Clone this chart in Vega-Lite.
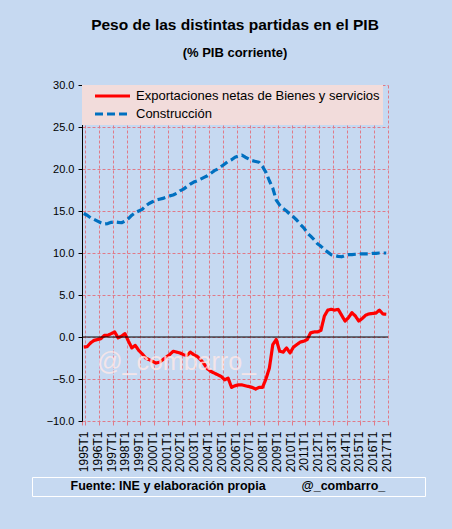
{
  "$schema": "https://vega.github.io/schema/vega-lite/v6.json",
  "width": 306,
  "height": 336,
  "autosize": "none",
  "padding": {"left": 82, "top": 85, "right": 64, "bottom": 108},
  "background": "#C6D9F1",
  "config": {"view": {"stroke": null}, "font": "Liberation Sans"},
  "title": {
    "text": "Peso de las distintas partidas en el PIB",
    "subtitle": "(% PIB corriente)",
    "font": "Liberation Sans",
    "fontSize": 15.5,
    "fontWeight": "bold",
    "color": "black",
    "subtitleFont": "Liberation Sans",
    "subtitleFontSize": 13,
    "subtitleFontWeight": "bold",
    "subtitleColor": "black",
    "subtitlePadding": 14,
    "anchor": "middle",
    "offset": 19
  },
  "data": {
    "values": [
      {"q": "1995T1", "exp": -1.2, "con": 14.7},
      {"q": "1995T2", "exp": -1.15, "con": 14.5},
      {"q": "1995T3", "exp": -0.7, "con": 14.2},
      {"q": "1995T4", "exp": -0.4, "con": 14.0},
      {"q": "1996T1", "exp": -0.3, "con": 13.8},
      {"q": "1996T2", "exp": -0.2, "con": 13.6},
      {"q": "1996T3", "exp": 0.2, "con": 13.45},
      {"q": "1996T4", "exp": 0.2, "con": 13.5},
      {"q": "1997T1", "exp": 0.4, "con": 13.65},
      {"q": "1997T2", "exp": 0.6, "con": 13.7},
      {"q": "1997T3", "exp": -0.1, "con": 13.65},
      {"q": "1997T4", "exp": 0.1, "con": 13.6},
      {"q": "1998T1", "exp": 0.4, "con": 13.8},
      {"q": "1998T2", "exp": -0.5, "con": 14.1},
      {"q": "1998T3", "exp": -1.3, "con": 14.5},
      {"q": "1998T4", "exp": -1.0, "con": 14.8},
      {"q": "1999T1", "exp": -1.6, "con": 15.0},
      {"q": "1999T2", "exp": -2.0, "con": 15.2},
      {"q": "1999T3", "exp": -2.5, "con": 15.6},
      {"q": "1999T4", "exp": -2.7, "con": 15.9},
      {"q": "2000T1", "exp": -2.9, "con": 16.1},
      {"q": "2000T2", "exp": -3.1, "con": 16.3},
      {"q": "2000T3", "exp": -3.0, "con": 16.4},
      {"q": "2000T4", "exp": -2.7, "con": 16.5},
      {"q": "2001T1", "exp": -2.4, "con": 16.65},
      {"q": "2001T2", "exp": -2.1, "con": 16.8},
      {"q": "2001T3", "exp": -1.7, "con": 16.9},
      {"q": "2001T4", "exp": -1.8, "con": 17.1},
      {"q": "2002T1", "exp": -1.9, "con": 17.4},
      {"q": "2002T2", "exp": -2.1, "con": 17.6},
      {"q": "2002T3", "exp": -2.2, "con": 17.9},
      {"q": "2002T4", "exp": -1.8, "con": 18.2},
      {"q": "2003T1", "exp": -2.1, "con": 18.45},
      {"q": "2003T2", "exp": -2.3, "con": 18.6},
      {"q": "2003T3", "exp": -2.7, "con": 18.8},
      {"q": "2003T4", "exp": -3.2, "con": 19.0},
      {"q": "2004T1", "exp": -3.8, "con": 19.2},
      {"q": "2004T2", "exp": -4.1, "con": 19.5},
      {"q": "2004T3", "exp": -4.3, "con": 19.8},
      {"q": "2004T4", "exp": -4.5, "con": 20.0},
      {"q": "2005T1", "exp": -4.7, "con": 20.3},
      {"q": "2005T2", "exp": -5.1, "con": 20.6},
      {"q": "2005T3", "exp": -4.9, "con": 20.9},
      {"q": "2005T4", "exp": -6.0, "con": 21.1},
      {"q": "2006T1", "exp": -5.8, "con": 21.4},
      {"q": "2006T2", "exp": -5.7, "con": 21.55},
      {"q": "2006T3", "exp": -5.7, "con": 21.65},
      {"q": "2006T4", "exp": -5.8, "con": 21.4},
      {"q": "2007T1", "exp": -5.9, "con": 21.2},
      {"q": "2007T2", "exp": -6.0, "con": 21.0},
      {"q": "2007T3", "exp": -6.2, "con": 20.9},
      {"q": "2007T4", "exp": -6.0, "con": 20.8},
      {"q": "2008T1", "exp": -6.0, "con": 20.3},
      {"q": "2008T2", "exp": -5.0, "con": 19.6},
      {"q": "2008T3", "exp": -3.7, "con": 18.6},
      {"q": "2008T4", "exp": -0.9, "con": 17.7},
      {"q": "2009T1", "exp": -0.3, "con": 16.3},
      {"q": "2009T2", "exp": -1.7, "con": 15.7},
      {"q": "2009T3", "exp": -1.8, "con": 15.3},
      {"q": "2009T4", "exp": -1.3, "con": 15.0},
      {"q": "2010T1", "exp": -1.9, "con": 14.6},
      {"q": "2010T2", "exp": -1.2, "con": 14.3},
      {"q": "2010T3", "exp": -0.9, "con": 13.9},
      {"q": "2010T4", "exp": -0.6, "con": 13.4},
      {"q": "2011T1", "exp": -0.5, "con": 13.0},
      {"q": "2011T2", "exp": -0.3, "con": 12.4},
      {"q": "2011T3", "exp": 0.5, "con": 12.0},
      {"q": "2011T4", "exp": 0.6, "con": 11.6},
      {"q": "2012T1", "exp": 0.6, "con": 11.1},
      {"q": "2012T2", "exp": 0.8, "con": 10.8},
      {"q": "2012T3", "exp": 2.5, "con": 10.4},
      {"q": "2012T4", "exp": 3.2, "con": 10.1},
      {"q": "2013T1", "exp": 3.3, "con": 9.8},
      {"q": "2013T2", "exp": 3.2, "con": 9.7},
      {"q": "2013T3", "exp": 3.3, "con": 9.6},
      {"q": "2013T4", "exp": 2.6, "con": 9.55},
      {"q": "2014T1", "exp": 1.9, "con": 9.7},
      {"q": "2014T2", "exp": 2.3, "con": 9.8},
      {"q": "2014T3", "exp": 2.9, "con": 9.8},
      {"q": "2014T4", "exp": 2.5, "con": 9.85},
      {"q": "2015T1", "exp": 1.9, "con": 9.9},
      {"q": "2015T2", "exp": 2.2, "con": 9.9},
      {"q": "2015T3", "exp": 2.6, "con": 9.9},
      {"q": "2015T4", "exp": 2.75, "con": 9.9},
      {"q": "2016T1", "exp": 2.8, "con": 9.95},
      {"q": "2016T2", "exp": 2.85, "con": 9.95},
      {"q": "2016T3", "exp": 3.2, "con": 10.0},
      {"q": "2016T4", "exp": 2.75, "con": 10.0},
      {"q": "2017T1", "exp": 2.7, "con": 10.0}
    ]
  },
  "layer": [
    {
      "transform": [{"fold": ["exp", "con"], "as": ["serie", "v"]}],
      "mark": {"type": "line", "strokeWidth": 3.2, "strokeJoin": "round"},
      "encoding": {
        "x": {
          "field": "q",
          "type": "ordinal",
          "sort": null,
          "bandPosition": 0.5,
          "scale": {"type": "band", "paddingInner": 0, "paddingOuter": 0},
          "axis": {
            "title": null,
            "values": ["1995T1","1996T1","1997T1","1998T1","1999T1","2000T1","2001T1","2002T1","2003T1","2004T1","2005T1","2006T1","2007T1","2008T1","2009T1","2010T1","2011T1","2012T1","2013T1","2014T1","2015T1","2016T1","2017T1"],
            "tickBand": "extent",
            "grid": true,
            "gridColor": "#E07A88",
            "gridDash": [3, 2],
            "gridWidth": 1,
            "domain": false,
            "ticks": true,
            "tickColor": "#E07A88",
            "tickSize": 4,
            "labelAngle": 270,
            "labelFontSize": 12,
            "labelColor": "black",
            "labelPadding": 6
          }
        },
        "y": {
          "field": "v",
          "type": "quantitative",
          "scale": {"domain": [-10, 30]},
          "axis": {
            "title": null,
            "values": [-10, -5, 0, 5, 10, 15, 20, 25, 30],
            "format": ".1f",
            "grid": true,
            "gridColor": "#E07A88",
            "gridDash": [3, 2],
            "gridWidth": 1,
            "domainColor": "black",
            "tickColor": "black",
            "tickSize": 4,
            "labelFontSize": 11,
            "labelColor": "black",
            "labelPadding": 4
          }
        },
        "color": {
          "field": "serie",
          "type": "nominal",
          "scale": {"domain": ["exp", "con"], "range": ["#FF0000", "#0070C0"]},
          "legend": {
            "title": null,
            "orient": "none",
            "legendX": 0,
            "legendY": 0,
            "fillColor": "#F2DCDB",
            "padding": 3,
            "symbolType": "stroke",
            "symbolSize": 1225,
            "symbolStrokeWidth": 3.2,
            "symbolOffset": 8,
            "clipHeight": 16,
            "rowPadding": 2,
            "labelOffset": 4,
            "labelFontSize": 13,
            "labelColor": "black",
            "labelLimit": 400,
            "labelExpr": "datum.label == 'exp' ? 'Exportaciones netas de Bienes y servicios' : 'Construcción'"
          }
        },
        "strokeDash": {
          "field": "serie",
          "type": "nominal",
          "scale": {"domain": ["exp", "con"], "range": [[1, 0], [8, 4]]}
        }
      }
    },
    {
      "data": {"values": [{}]},
      "mark": {"type": "rule", "color": "black", "strokeWidth": 1},
      "encoding": {"y": {"datum": 0}}
    },
    {
      "data": {"values": [{}]},
      "mark": {"type": "text", "fontSize": 25, "font": "Liberation Sans", "fill": "#FFE8E8", "opacity": 0.8, "align": "center", "baseline": "alphabetic"},
      "encoding": {
        "x": {"datum": "2001T4"},
        "y": {"datum": -3.9},
        "text": {"value": "@_combarro_"}
      }
    },
    {
      "data": {"values": [{"f": "Fuente: INE y elaboración propia"}, {"f": "@_combarro_"}]},
      "mark": {"type": "point", "opacity": 0},
      "encoding": {
        "shape": {
          "field": "f",
          "type": "nominal",
          "scale": {"domain": ["Fuente: INE y elaboración propia", "@_combarro_", " "]},
          "legend": {
            "title": null,
            "orient": "none",
            "legendX": -50,
            "legendY": 392,
            "direction": "horizontal",
            "values": ["Fuente: INE y elaboración propia", "@_combarro_", " "],
            "strokeColor": "white",
            "padding": 3,
            "symbolSize": 0,
            "symbolOpacity": 0,
            "labelOffset": 23,
            "columnPadding": 0,
            "labelFont": "Liberation Sans",
            "labelFontSize": 12.5,
            "labelFontWeight": "bold",
            "labelLimit": 400,
            "encode": {
              "labels": {
                "update": {
                  "fill": {"signal": "datum.label === '@_combarro_' ? '#E00000' : '#1F1F1F'"}
                }
              }
            }
          }
        }
      }
    }
  ]
}
